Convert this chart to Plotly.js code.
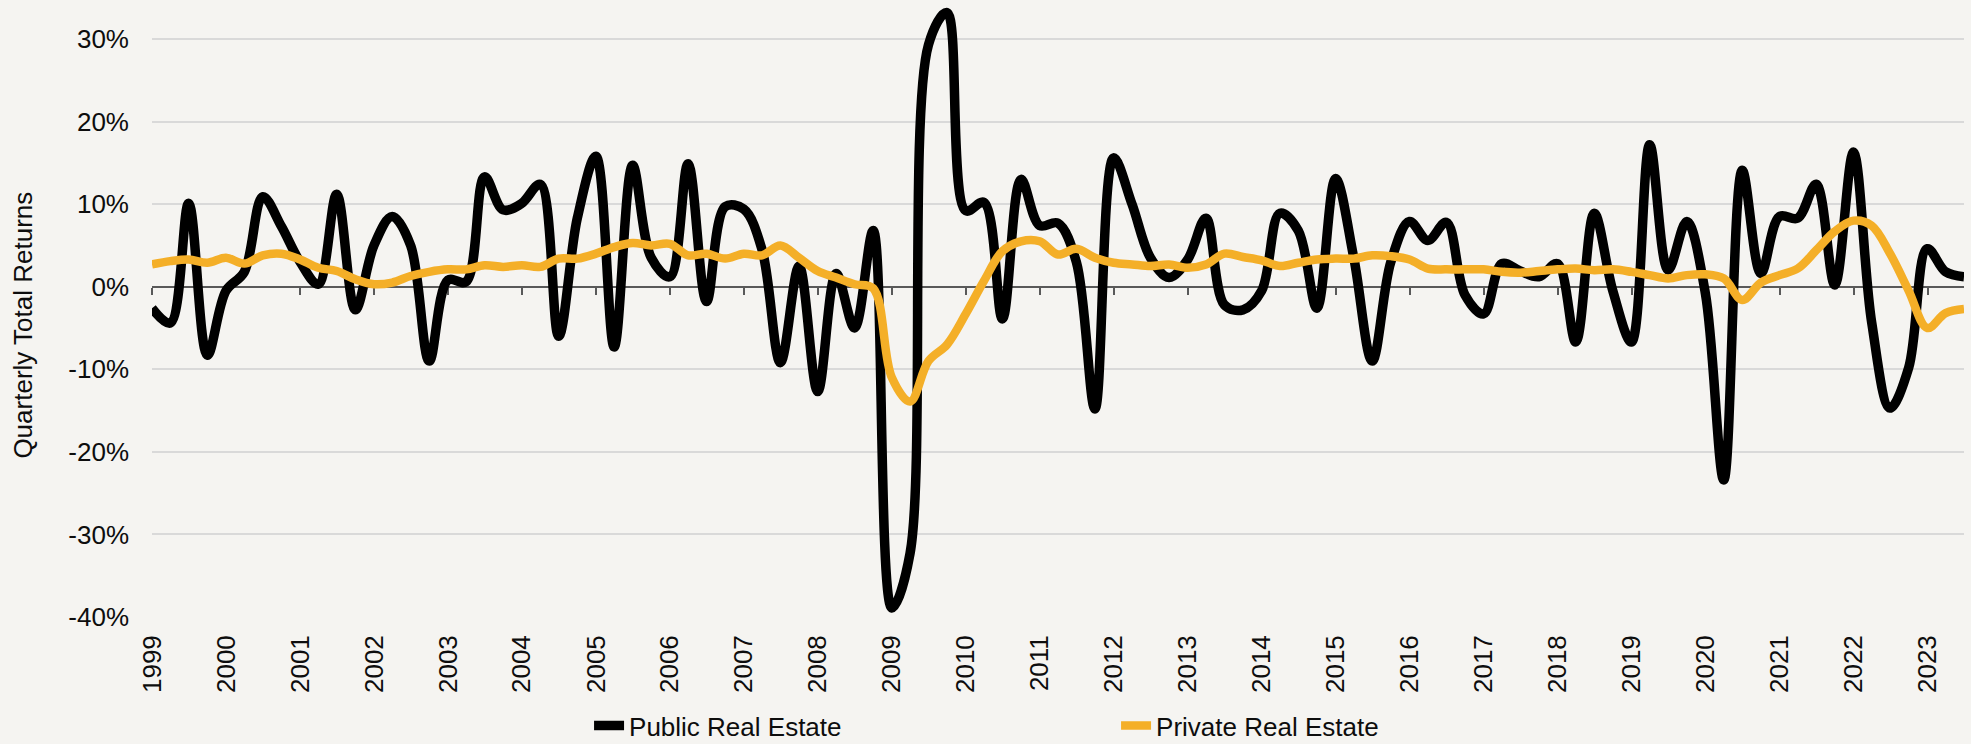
<!DOCTYPE html>
<html>
<head>
<meta charset="utf-8">
<script src="https://cdn.plot.ly/plotly-3.0.1.min.js"></script>
<style>
  html, body { margin: 0; padding: 0; background: #f5f4f1; }
  #chart { width: 1971px; height: 744px; }
</style>
</head>
<body>
<div id="chart"></div>
<script>
// Quarter-end dates (categories)
const quarters = [
  '1998-12-31',
  '1999-03-31','1999-06-30','1999-09-30','1999-12-31',
  '2000-03-31','2000-06-30','2000-09-30','2000-12-31',
  '2001-03-31','2001-06-30','2001-09-30','2001-12-31',
  '2002-03-31','2002-06-30','2002-09-30','2002-12-31',
  '2003-03-31','2003-06-30','2003-09-30','2003-12-31',
  '2004-03-31','2004-06-30','2004-09-30','2004-12-31',
  '2005-03-31','2005-06-30','2005-09-30','2005-12-31',
  '2006-03-31','2006-06-30','2006-09-30','2006-12-31',
  '2007-03-31','2007-06-30','2007-09-30','2007-12-31',
  '2008-03-31','2008-06-30','2008-09-30','2008-12-31',
  '2009-03-31','2009-06-30','2009-09-30','2009-12-31',
  '2010-03-31','2010-06-30','2010-09-30','2010-12-31',
  '2011-03-31','2011-06-30','2011-09-30','2011-12-31',
  '2012-03-31','2012-06-30','2012-09-30','2012-12-31',
  '2013-03-31','2013-06-30','2013-09-30','2013-12-31',
  '2014-03-31','2014-06-30','2014-09-30','2014-12-31',
  '2015-03-31','2015-06-30','2015-09-30','2015-12-31',
  '2016-03-31','2016-06-30','2016-09-30','2016-12-31',
  '2017-03-31','2017-06-30','2017-09-30','2017-12-31',
  '2018-03-31','2018-06-30','2018-09-30','2018-12-31',
  '2019-03-31','2019-06-30','2019-09-30','2019-12-31',
  '2020-03-31','2020-06-30','2020-09-30','2020-12-31',
  '2021-03-31','2021-06-30','2021-09-30','2021-12-31',
  '2022-03-31','2022-06-30','2022-09-30','2022-12-31',
  '2023-03-31','2023-06-30'
];

// Quarterly total returns, %
const publicRealEstate = [
  -2.6,
  -4.4, 10.1, -8.3, -0.5,
  1.8, 10.9, 7.3, 3.0,
  0.3, 11.2, -2.8, 5.0,
  8.5, 5.0, -9.0, 0.8,
  0.6, 13.3, 9.3, 10.1,
  12.4, -6.0, 8.3, 15.8,
  -7.3, 14.7, 3.5, 1.2,
  14.9, -1.8, 9.7, 9.4,
  4.5, -9.2, 2.5, -12.7,
  1.6, -5.0, 6.8, -38.9,
  -32.3, 29.3, 33.2, 9.2,
  10.2, -3.9, 13.0, 7.4,
  7.7, 3.0, -14.8, 15.6,
  10.0, 3.5, 1.1, 3.3,
  8.3, -2.2, -2.8, -0.5,
  8.9, 6.8, -2.6, 13.1,
  3.5, -9.0, 3.0, 7.9,
  5.6, 7.8, -1.0, -3.3,
  2.8, 1.9, 1.2, 2.8,
  -6.7, 8.9, -0.5, -6.7,
  17.2, 2.0, 7.9, -0.8,
  -23.4, 14.1, 1.6, 8.5,
  8.3, 12.4, 0.2, 16.3,
  -4.3, -14.7, -9.8, 4.6,
  1.8, 1.2
];

const privateRealEstate = [
  2.7,
  3.1, 3.3, 2.9, 3.5,
  2.8, 3.8, 4.0, 3.3,
  2.3, 1.9, 0.9, 0.3,
  0.5, 1.3, 1.8, 2.1,
  2.1, 2.6, 2.4, 2.6,
  2.4, 3.4, 3.4, 4.0,
  4.8, 5.3, 5.0, 5.2,
  3.8, 4.0, 3.4, 4.0,
  3.8, 5.0, 3.5, 1.9,
  1.1, 0.3, -0.2, -11.0,
  -13.9, -9.0, -7.0, -3.3,
  0.7, 4.3, 5.5, 5.5,
  3.9, 4.6, 3.5, 2.9,
  2.7, 2.5, 2.7, 2.3,
  2.7, 4.0, 3.6, 3.2,
  2.5, 2.9, 3.3, 3.4,
  3.4, 3.8, 3.7, 3.3,
  2.2, 2.1, 2.1, 2.1,
  1.8, 1.7, 1.9, 2.1,
  2.2, 2.0, 2.1, 1.8,
  1.4, 1.0, 1.4, 1.5,
  1.0, -1.6, 0.5, 1.4,
  2.2, 4.4, 6.7, 8.0,
  7.4, 4.0, -0.5, -5.0,
  -3.2, -2.7
];

const seriesNames = ['Public Real Estate', 'Private Real Estate'];
const yTickVals = [-40, -30, -20, -10, 0, 10, 20, 30];
const yTickText = ['-40%', '-30%', '-20%', '-10%', '0%', '10%', '20%', '30%'];

const yMin = -40, yMax = 34.72;
const xRange = ['1998-12-31', '2023-06-30'];
const font = '"Liberation Sans", Arial, sans-serif';
const textColor = '#0d0d0d';

const traces = [
  {
    x: quarters, y: publicRealEstate, name: seriesNames[0],
    type: 'scatter', mode: 'lines', xaxis: 'x', yaxis: 'y',
    line: { color: '#000000', width: 9.5, shape: 'spline', smoothing: 1 },
    hovertemplate: '%{y:.1f}%<extra>' + seriesNames[0] + '</extra>'
  },
  {
    x: quarters, y: privateRealEstate, name: seriesNames[1],
    type: 'scatter', mode: 'lines', xaxis: 'x2', yaxis: 'y',
    line: { color: '#F4AF28', width: 8.5, shape: 'spline', smoothing: 1 },
    hovertemplate: '%{y:.1f}%<extra>' + seriesNames[1] + '</extra>'
  }
];

const layout = {
  width: 1971, height: 744,
  paper_bgcolor: '#f5f4f1', plot_bgcolor: '#f5f4f1',
  margin: { l: 152, r: 7, t: 0, b: 127, pad: 0, autoexpand: false },
  font: { family: font, size: 26, color: textColor },
  showlegend: true,
  legend: {
    orientation: 'h', x: 0.2412, xanchor: 'left', y: -0.176, yanchor: 'middle',
    font: { family: font, size: 26, color: textColor },
    entrywidth: 482, entrywidthmode: 'pixels',
    bgcolor: 'rgba(0,0,0,0)', traceorder: 'normal'
  },
  xaxis: {
    type: 'date', range: xRange,
    tick0: '1999-01-01', dtick: 'M12', tickformat: '%Y',
    tickangle: -90, ticks: '', showgrid: false, zeroline: false, showline: false,
    ticklabelstandoff: 12, automargin: false,
    tickfont: { family: font, size: 26, color: textColor }
  },
  xaxis2: {
    type: 'date', range: xRange, matches: 'x', overlaying: 'x', anchor: 'free',
    position: (0 - yMin) / (yMax - yMin),
    tick0: '1999-01-01', dtick: 'M12',
    showticklabels: false, ticks: 'outside', ticklen: 7, tickwidth: 1.5, tickcolor: '#595959',
    showline: true, linecolor: '#595959', linewidth: 2,
    showgrid: false, zeroline: false, layer: 'below traces'
  },
  yaxis: {
    range: [yMin, yMax], tickvals: yTickVals, ticktext: yTickText,
    showgrid: true, gridcolor: '#d9d9d9', gridwidth: 1.5,
    zeroline: false, showline: false, ticks: '',
    ticklabelstandoff: 22, automargin: false,
    tickfont: { family: font, size: 26, color: textColor }
  },
  annotations: [{
    text: 'Quarterly Total Returns', textangle: -90,
    xref: 'paper', yref: 'paper', x: (23 - 152) / 1812, y: 1 - 325.6 / 617,
    xanchor: 'center', yanchor: 'middle', showarrow: false,
    font: { family: font, size: 26, color: textColor }
  }]
};

Plotly.newPlot('chart', traces, layout, { displayModeBar: false, responsive: false });
</script>
</body>
</html>
